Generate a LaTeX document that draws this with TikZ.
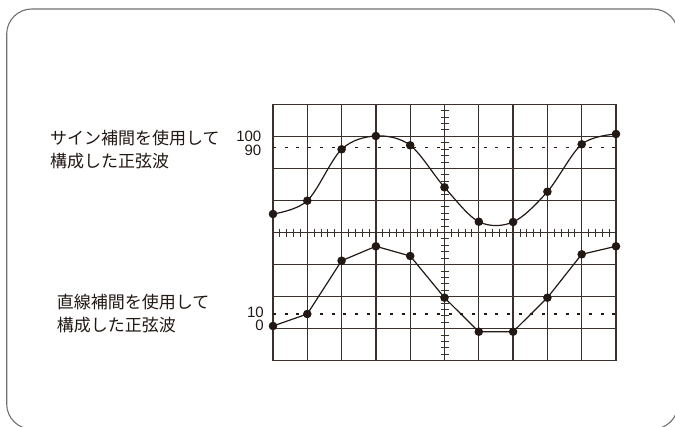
\documentclass[tikz,border=0pt]{standalone}
\usepackage{fontspec}
\setmainfont{Noto Sans CJK JP}
\newfontfamily\digitfont{Liberation Sans}
\definecolor{framegray}{RGB}{112,112,112}
\definecolor{inkbrown}{RGB}{34,24,20}
\definecolor{gridbrown}{RGB}{58,48,44}

\begin{document}
\begin{tikzpicture}[x=1pt,y=-1pt,
        gridline/.style={draw=gridbrown,line width=1.3pt},
        tickline/.style={draw=gridbrown,line width=0.9pt},
        refline/.style={draw=inkbrown,line width=1.3pt,dash pattern=on 3pt off 8.7pt},
        wave/.style={draw=inkbrown,line width=1.2pt},
        dot/.style={circle,fill=inkbrown,inner sep=0pt,minimum size=8.6pt},
        caption/.style={anchor=west,align=left,inner sep=0pt,text=inkbrown,font=\fontsize{17}{23}\selectfont},
        scalelabel/.style={anchor=east,align=right,inner sep=0pt,text=inkbrown,font=\digitfont\fontsize{15}{13.5}\selectfont}]
        \useasboundingbox (0,0) rectangle (675,426);
        \clip (0,0) rectangle (675,426);
        \draw[draw=framegray,line width=1.1pt,rounded corners=25pt] (6.7,9) rectangle (678,429);

        \draw[gridline] (273,104.3) rectangle (616,360.7);
        \foreach \c in {1,...,9}
            \draw[gridline] ({273+34.3*\c},104.3) -- ({273+34.3*\c},360.7);
        \foreach \r in {1,...,7}
            \draw[gridline] (273,{104.3+32.05*\r}) -- (616,{104.3+32.05*\r});
        \foreach \c in {0,...,9}
            \foreach \k in {1,...,4}
                \draw[tickline] ({273+34.3*\c+6.86*\k},228.5) -- ++(0,8);
        \foreach \r in {0,...,7}
            \foreach \k in {1,...,4}
                \draw[tickline] (440.5,{104.3+32.05*\r+6.41*\k}) -- ++(8,0);

        \draw[refline] (273,147.7) -- (616,147.7);
        \draw[refline] (273,314) -- (616,314);

        \foreach \v [count=\i] in {214,200.7,149.3,136,145.3,187.3,221.7,222,191.7,144.3,134}
            \coordinate (s\i) at ({273+34.3*(\i-1)},\v);
        \foreach \v [count=\i] in {326,314,260.7,246.3,256,297.7,331.7,331.7,297.7,254.3,246.3}
            \coordinate (l\i) at ({273+34.3*(\i-1)},\v);

        \draw[wave] plot[smooth,tension=0.55] coordinates {(s1) (s2) (s3) (s4) (s5) (s6) (s7) (s8) (s9) (s10) (s11)};
        \draw[wave] (l1) -- (l2) -- (l3) -- (l4) -- (l5) -- (l6) -- (l7) -- (l8) -- (l9) -- (l10) -- (l11);
        \foreach \i in {1,...,11} {
            \node[dot] (sd\i) at (s\i) {};
            \node[dot] (ld\i) at (l\i) {};
        }

        \node[caption] (sinetext) at (50,149.5) {サイン補間を使用して\\構成した正弦波};
        \node[caption] (lineartext) at (56.7,313.5) {直線補間を使用して\\構成した正弦波};
        \node[scalelabel] (sinescale) at (261.5,143.5) {100\\90};
        \node[scalelabel] (linearscale) at (264,318.8) {10\\0};
\end{tikzpicture}
\end{document}
